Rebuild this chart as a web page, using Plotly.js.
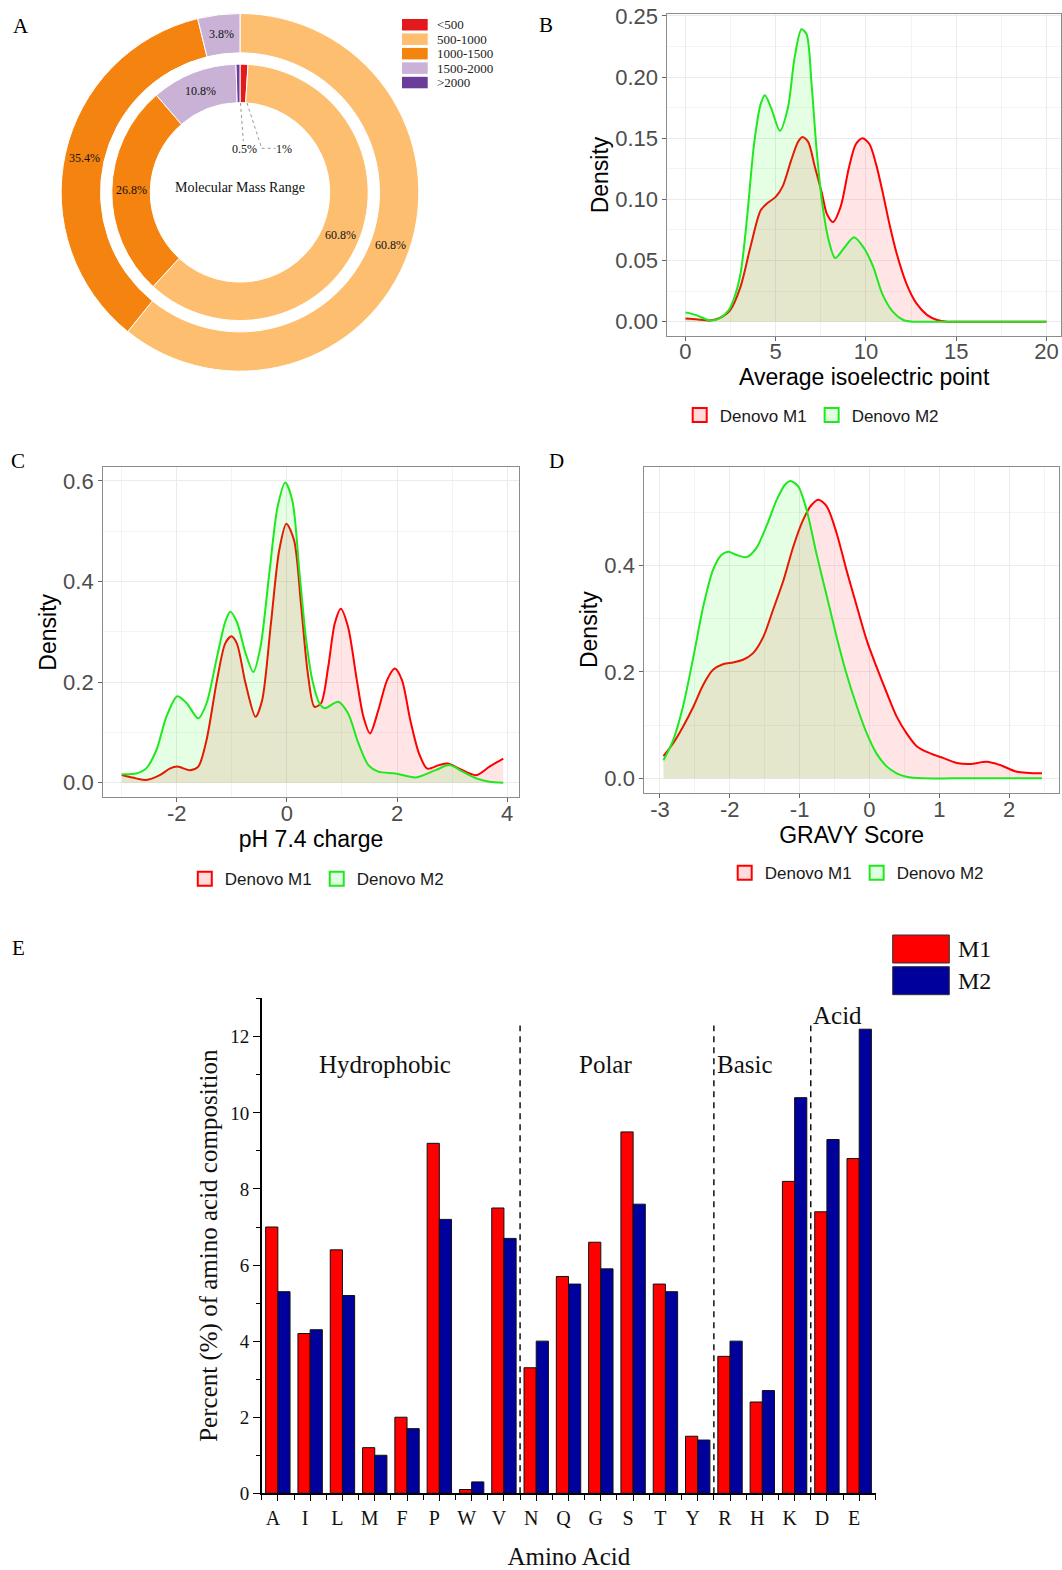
<!DOCTYPE html>
<html><head><meta charset="utf-8">
<script src="https://cdn.plot.ly/plotly-3.0.1.min.js"></script>
<style>html,body{margin:0;padding:0;background:#fff}</style>
</head><body>
<div id="chart" style="width:1062px;height:1570px"></div>
<script>
// ---------- Panel A data ----------
const massLabels = ['<500','500-1000','1000-1500','1500-2000','>2000'];
const massColors = ['#E31A1C','#FDBF6F','#F5830F','#CAB2D6','#6A3D9A'];
const innerVals = [1, 60.8, 26.8, 10.8, 0.5];
const outerLabels = ['500-1000','1000-1500','1500-2000'];
const outerVals = [60.8, 35.4, 3.8];
const centerTitle = 'Molecular Mass Range';

// ---------- Panel B data (average isoelectric point) ----------
const bX_M1 = [0,0.6,1.35,1.9,2.48,3.05,3.6,4.17,4.55,5.0,5.4,5.86,6.24,6.48,6.8,7.18,7.56,7.84,8.18,8.6,9.06,9.44,9.81,10.2,10.56,10.94,11.3,11.7,12.25,12.8,13.4,13.95,14.5,15.5,17.5,20];
const bY_M1 = [0.0027,0.002,0.001,0.003,0.0095,0.0285,0.061,0.091,0.097,0.102,0.111,0.132,0.147,0.151,0.147,0.126,0.105,0.088,0.0815,0.094,0.126,0.145,0.150,0.145,0.129,0.105,0.080,0.056,0.031,0.015,0.0054,0.0014,0,0,0,0];
const bX_M2 = [0,0.6,1.35,1.9,2.4,2.67,3.05,3.42,3.8,4.17,4.4,4.74,5.24,5.68,6.05,6.43,6.71,6.99,7.27,7.56,7.93,8.3,8.78,9.34,9.9,10.4,10.9,11.5,12.07,12.6,13.5,15,17.5,20];
const bY_M2 = [0.0076,0.0054,0.001,0.003,0.0095,0.018,0.039,0.086,0.145,0.178,0.185,0.175,0.156,0.175,0.216,0.239,0.235,0.194,0.14,0.099,0.067,0.052,0.060,0.069,0.060,0.045,0.023,0.008,0.0014,0,0,0,0,0];

// ---------- Panel C data (pH 7.4 charge) ----------
const cX_M1 = [-3.0,-2.74,-2.56,-2.31,-2.13,-1.99,-1.76,-1.61,-1.46,-1.27,-1.12,-1.01,-0.91,-0.75,-0.57,-0.45,-0.29,-0.14,-0.01,0.13,0.26,0.38,0.50,0.62,0.75,0.87,0.98,1.11,1.27,1.39,1.51,1.66,1.82,1.96,2.09,2.24,2.40,2.55,2.76,2.92,3.13,3.44,3.68,3.93];
const cY_M1 = [0.0152,0.0086,0.0053,0.015,0.028,0.032,0.025,0.032,0.085,0.204,0.277,0.291,0.277,0.197,0.131,0.164,0.317,0.462,0.515,0.482,0.35,0.217,0.151,0.158,0.23,0.317,0.346,0.31,0.204,0.131,0.098,0.144,0.204,0.227,0.204,0.125,0.058,0.028,0.035,0.038,0.028,0.015,0.032,0.048];
const cX_M2 = [-3.0,-2.74,-2.56,-2.37,-2.19,-1.99,-1.82,-1.61,-1.46,-1.27,-1.12,-1.03,-0.91,-0.75,-0.61,-0.48,-0.32,-0.17,-0.03,0.10,0.23,0.35,0.47,0.59,0.69,0.93,1.11,1.30,1.48,1.66,1.97,2.34,2.70,2.95,3.19,3.44,3.68,3.93];
const cY_M2 = [0.017,0.0185,0.028,0.065,0.131,0.172,0.158,0.128,0.158,0.25,0.32,0.34,0.32,0.257,0.22,0.27,0.416,0.548,0.597,0.56,0.416,0.283,0.20,0.158,0.148,0.161,0.138,0.078,0.035,0.022,0.0185,0.0106,0.025,0.035,0.022,0.0086,0.002,0.0];

// ---------- Panel D data (GRAVY score) ----------
const dX_M1 = [-2.95,-2.81,-2.67,-2.52,-2.38,-2.24,-2.09,-1.95,-1.81,-1.67,-1.52,-1.38,-1.23,-1.09,-0.95,-0.83,-0.73,-0.61,-0.47,-0.33,-0.18,-0.04,0.10,0.25,0.39,0.53,0.68,0.87,1.06,1.25,1.44,1.68,1.87,2.11,2.47];
const dY_M1 = [0.042,0.066,0.097,0.135,0.176,0.204,0.215,0.218,0.223,0.235,0.266,0.317,0.373,0.436,0.486,0.514,0.524,0.511,0.461,0.392,0.323,0.26,0.21,0.16,0.116,0.085,0.06,0.047,0.038,0.029,0.027,0.031,0.025,0.0125,0.0094];
const dX_M2 = [-2.95,-2.81,-2.67,-2.52,-2.38,-2.24,-2.12,-2.02,-1.90,-1.76,-1.62,-1.47,-1.33,-1.21,-1.13,-1.02,-0.90,-0.76,-0.61,-0.47,-0.33,-0.18,-0.04,0.10,0.25,0.39,0.53,0.77,1.2,1.8,2.47];
const dY_M2 = [0.034,0.072,0.135,0.229,0.323,0.392,0.42,0.426,0.42,0.416,0.433,0.476,0.523,0.552,0.559,0.549,0.505,0.423,0.342,0.266,0.197,0.135,0.085,0.047,0.022,0.0094,0.003,0,0,0,0];

const seriesNames = ['Denovo M1','Denovo M2'];

// ---------- Panel E data ----------
const aminoAcids = ['A','I','L','M','F','P','W','V','N','Q','G','S','T','Y','R','H','K','D','E'];
const compM1 = [7.0,4.2,6.4,1.2,2.0,9.2,0.1,7.5,3.3,5.7,6.6,9.5,5.5,1.5,3.6,2.4,8.2,7.4,8.8];
const compM2 = [5.3,4.3,5.2,1.0,1.7,7.2,0.3,6.7,4.0,5.5,5.9,7.6,5.3,1.4,4.0,2.7,10.4,9.3,12.2];
const barNames = ['M1','M2'];
const groupNames = ['Hydrophobic','Polar','Basic','Acid'];
const groupSizes = [8,6,3,2];

// ---------- helpers ----------
const W = 1062, H = 1570;
const px = v => v / W;
const py = v => 1 - v / H;
const SANS = 'Liberation Sans, Arial, sans-serif';
const SERIF = 'Liberation Serif, Times New Roman, serif';
const RED = '#FF0000', GREEN = '#1FE81F';
const RED_FILL = 'rgba(255,0,0,0.1)', GREEN_FILL = 'rgba(0,255,0,0.1)';

const colorOf = l => massColors[massLabels.indexOf(l)];

const traces = [];

// Panel A pie geometry (pixels)
const PCX = 240, PCY = 192.35;
const outerR = 178.85, outerHole = 0.78;
const innerR = 128.2, innerHole = 0.70;

traces.push({
  type:'pie', labels: outerLabels, values: outerVals, hole: outerHole, sort:false,
  direction:'clockwise', rotation:0,
  marker:{colors: outerLabels.map(colorOf), line:{color:'#fff', width:1}},
  textinfo:'none',
  domain:{x:[px(PCX - outerR), px(PCX + outerR)], y:[py(PCY + outerR), py(PCY - outerR)]},
  showlegend:false, hoverinfo:'label+value'
});
traces.push({
  type:'pie', labels: massLabels, values: innerVals, hole: innerHole, sort:false,
  direction:'clockwise', rotation:0,
  marker:{colors: massColors, line:{color:'#fff', width:1}},
  textinfo:'none',
  domain:{x:[px(PCX - innerR), px(PCX + innerR)], y:[py(PCY + innerR), py(PCY - innerR)]},
  showlegend:false, hoverinfo:'label+value'
});

function dens(x, y, color, fill, xa, ya) {
  return {type:'scatter', mode:'lines', x, y, xaxis:xa, yaxis:ya,
    line:{color, width:2, shape:'spline', smoothing:0.8},
    fill:'tozeroy', fillcolor:fill, showlegend:false, hoverinfo:'x+y'};
}
function legItem(name, color, fill, xa, ya, leg) {
  return {type:'scatter', mode:'markers', x:[null], y:[null], xaxis:xa, yaxis:ya,
    name, legend:leg, showlegend:true,
    marker:{symbol:'square', size:14, color:fill, line:{color, width:2}}};
}
const LFILL1 = 'rgba(255,0,0,0.14)', LFILL2 = 'rgba(0,255,0,0.12)';

// Panel B
traces.push(dens(bX_M1, bY_M1, RED, RED_FILL, 'x', 'y'));
traces.push(dens(bX_M2, bY_M2, GREEN, GREEN_FILL, 'x', 'y'));
traces.push(legItem(seriesNames[0], RED, LFILL1, 'x', 'y', 'legend'));
traces.push(legItem(seriesNames[1], GREEN, LFILL2, 'x', 'y', 'legend'));
// Panel C
traces.push(dens(cX_M1, cY_M1, RED, RED_FILL, 'x2', 'y2'));
traces.push(dens(cX_M2, cY_M2, GREEN, GREEN_FILL, 'x2', 'y2'));
traces.push(legItem(seriesNames[0], RED, LFILL1, 'x2', 'y2', 'legend2'));
traces.push(legItem(seriesNames[1], GREEN, LFILL2, 'x2', 'y2', 'legend2'));
// Panel D
traces.push(dens(dX_M1, dY_M1, RED, RED_FILL, 'x3', 'y3'));
traces.push(dens(dX_M2, dY_M2, GREEN, GREEN_FILL, 'x3', 'y3'));
traces.push(legItem(seriesNames[0], RED, LFILL1, 'x3', 'y3', 'legend3'));
traces.push(legItem(seriesNames[1], GREEN, LFILL2, 'x3', 'y3', 'legend3'));

// Panel E bars
const idx = aminoAcids.map((_, i) => i);
const barColors = ['#FF0000', '#00009C'];
traces.push({type:'bar', x: idx, y: compM1, name: barNames[0], xaxis:'x4', yaxis:'y4',
  marker:{color: barColors[0], line:{color:'#111', width:1}}, showlegend:false});
traces.push({type:'bar', x: idx, y: compM2, name: barNames[1], xaxis:'x4', yaxis:'y4',
  marker:{color: barColors[1], line:{color:'#111', width:1}}, showlegend:false});

function gAxis(extra) {
  return Object.assign({
    showgrid:true, gridcolor:'#EBEBEB', gridwidth:1,
    zeroline:false, showline:true, mirror:true, linecolor:'#8C8C8C', linewidth:1,
    ticks:'outside', ticklen:4, tickcolor:'#666', tickwidth:1,
    tickfont:{family:SANS, size:22, color:'#4D4D4D'},
    fixedrange:true
  }, extra);
}
const gTitle = (text, standoff) => ({text, font:{family:SANS, size:23, color:'#000'}, standoff});

const ticksC = [-2,0,2,4];
const ticksD = [-3,-2,-1,0,1,2];

const bounds = [];
let acc = 0;
groupSizes.forEach((s, i) => { acc += s; if (i < groupSizes.length - 1) bounds.push(acc - 0.5); });

const shapes = [];
bounds.forEach(b => shapes.push({type:'line', xref:'x4', yref:'y4', x0:b, x1:b, y0:0, y1:12.3,
  line:{color:'#111', width:1.5, dash:'6px,5px'}}));

// Panel A leader lines for the tiny slices
shapes.push({type:'line', xref:'paper', yref:'paper', x0:px(240.5), y0:py(103), x1:px(243.3), y1:py(141), line:{color:'#999', width:1, dash:'dot'}});
shapes.push({type:'line', xref:'paper', yref:'paper', x0:px(247), y0:py(103), x1:px(261.7), y1:py(148.3), line:{color:'#999', width:1, dash:'dot'}});
shapes.push({type:'line', xref:'paper', yref:'paper', x0:px(261.7), y0:py(148.3), x1:px(275.5), y1:py(148.3), line:{color:'#999', width:1, dash:'dot'}});

const annotations = [];
const txt = (text, x, y, font, xanchor) => ({text, x, y, xref:'paper', yref:'paper', showarrow:false,
  xanchor: xanchor || 'center', yanchor:'middle', font});

[['A',21,26],['B',546,25],['C',18,461],['D',556,461],['E',18,948]].forEach(([t,x,y]) =>
  annotations.push(txt(t, px(x), py(y), {family:SERIF, size:21, color:'#000'})));

// pie slice labels at slice centroids (computed from values)
function sliceLabels(vals, R, hole, minVal) {
  const total = vals.reduce((a, b) => a + b, 0);
  const rMid = R * (1 + hole) / 2;
  let cum = 0;
  vals.forEach(v => {
    const th = 2 * Math.PI * (cum + v / 2) / total;
    cum += v;
    if (v < minVal) return;
    annotations.push(txt(v + '%', px(PCX + rMid * Math.sin(th)), py(PCY - rMid * Math.cos(th)),
      {family:SERIF, size:12, color:'#111'}));
  });
}
sliceLabels(outerVals, outerR, outerHole, 2);
sliceLabels(innerVals, innerR, innerHole, 2);

annotations.push(txt(centerTitle, px(240), py(187.5), {family:SERIF, size:14, color:'#111'}));
annotations.push(txt(innerVals[4] + '%', px(244.2), py(149.3), {family:SERIF, size:12, color:'#111'}));
annotations.push(txt(innerVals[0] + '%', px(283.8), py(149.3), {family:SERIF, size:12, color:'#111'}));

// Panel A legend
massLabels.forEach((l, i) => {
  const top = 19 + i * 14.45;
  shapes.push({type:'rect', xref:'paper', yref:'paper', x0:px(402), x1:px(427.7), y0:py(top + 11.5), y1:py(top),
    fillcolor: massColors[i], line:{width:0}});
  annotations.push(txt(l.replace('<','&lt;').replace('>','&gt;'), px(435), py(top + 5.75),
    {family:SERIF, size:13, color:'#222'}, 'left'));
});

// Panel E group labels
const groupLabelPos = [[3.31,11.28,'center'],[10.13,11.28,'center'],[13.52,11.28,'left'],[16.52,12.57,'left']];
groupNames.forEach((g, i) => annotations.push({text:g, x:groupLabelPos[i][0], y:groupLabelPos[i][1],
  xref:'x4', yref:'y4', showarrow:false, xanchor:groupLabelPos[i][2], yanchor:'middle',
  font:{family:SERIF, size:25, color:'#111'}}));

// Panel E legend
const legTops = [935, 966.7];
barNames.forEach((n, i) => {
  shapes.push({type:'rect', xref:'paper', yref:'paper', x0:px(892.7), x1:px(949.3),
    y0:py(legTops[i] + 28), y1:py(legTops[i]), fillcolor: barColors[i], line:{color:'#333', width:1}});
  annotations.push(txt(n, px(956), py(legTops[i] + 14.3), {family:SERIF, size:24, color:'#111'}, 'left'));
});

const legendBase = {orientation:'h', xanchor:'center', yanchor:'middle', bgcolor:'rgba(0,0,0,0)',
  font:{family:SANS, size:17, color:'#1A1A1A'}, itemclick:false, itemdoubleclick:false};

const layout = {
  width:W, height:H, margin:{l:0, r:0, t:0, b:0}, paper_bgcolor:'#fff', plot_bgcolor:'#fff',
  font:{family:SANS}, showlegend:true, hovermode:'closest',
  barmode:'group', bargap:0.245, bargroupgap:0,
  legend: Object.assign({x:px(811.7), y:py(415.5)}, legendBase),
  legend2: Object.assign({x:px(316.8), y:py(879.3)}, legendBase),
  legend3: Object.assign({x:px(856.7), y:py(873.3)}, legendBase),
  xaxis: gAxis({domain:[px(667.4), px(1061)], range:[-1, 20.81], anchor:'y', dtick:5, tick0:0,
    ticklabelstandoff:-8,
    minor:{dtick:2.5, showgrid:true, gridcolor:'#F3F3F3', gridwidth:0.6},
    title: gTitle('Average isoelectric point', 3)}),
  yaxis: gAxis({domain:[py(336), py(14)], range:[-0.0117, 0.2515], anchor:'x', dtick:0.05, tick0:0, tickformat:'.2f',
    minor:{dtick:0.025, showgrid:true, gridcolor:'#F3F3F3', gridwidth:0.6},
    title: gTitle('Density', 0)}),
  xaxis2: gAxis({domain:[px(103.1), px(519)], range:[-3.339, 4.216], anchor:'y2',
    tickmode:'array', tickvals:ticksC, ticktext:ticksC.map(String), ticklabelstandoff:-8,
    minor:{dtick:1, tick0:-3, showgrid:true, gridcolor:'#F3F3F3', gridwidth:0.6},
    title: gTitle('pH 7.4 charge', 3)}),
  yaxis2: gAxis({domain:[py(797.3), py(467.3)], range:[-0.029, 0.627], anchor:'x2', dtick:0.2, tick0:0, tickformat:'.1f',
    minor:{dtick:0.1, showgrid:true, gridcolor:'#F3F3F3', gridwidth:0.6},
    title: gTitle('Density', 0)}),
  xaxis3: gAxis({domain:[px(644.3), px(1059)], range:[-3.224, 2.714], anchor:'y3',
    tickmode:'array', tickvals:ticksD, ticktext:ticksD.map(String), ticklabelstandoff:-7,
    minor:{dtick:0.5, tick0:-3, showgrid:true, gridcolor:'#F3F3F3', gridwidth:0.6},
    title: gTitle('GRAVY Score', 5)}),
  yaxis3: gAxis({domain:[py(792.7), py(466.7)], range:[-0.027, 0.586], anchor:'x3', dtick:0.2, tick0:0, tickformat:'.1f',
    minor:{dtick:0.1, showgrid:true, gridcolor:'#F3F3F3', gridwidth:0.6},
    title: gTitle('Density', 0)}),
  xaxis4: {domain:[px(261.7), px(876)], range:[-0.5, 18.52], anchor:'y4',
    tickmode:'array', tickvals: idx, ticktext: aminoAcids,
    showgrid:false, zeroline:false, showline:true, linecolor:'#000', linewidth:1.5,
    ticks:'outside', ticklen:6, tickwidth:1.2, tickcolor:'#000',
    minor:{tickmode:'array', tickvals: idx.map(i => i - 0.5).concat([idx.length - 0.5]), ticks:'outside', ticklen:5, tickwidth:1.2, tickcolor:'#000'},
    tickfont:{family:SERIF, size:20, color:'#111'}, ticklabelshift:-5,
    title:{text:'Amino Acid', font:{family:SERIF, size:25, color:'#111'}, standoff:20}, fixedrange:true},
  yaxis4: {domain:[py(1493.3), py(998)], range:[0, 13.02], anchor:'x4', dtick:2, tick0:0,
    showgrid:false, zeroline:false, showline:true, linecolor:'#000', linewidth:1.5,
    ticks:'outside', ticklen:7, tickwidth:1.2, tickcolor:'#000',
    minor:{dtick:1, ticks:'outside', ticklen:4, tickwidth:1.2, tickcolor:'#000'},
    tickfont:{family:SERIF, size:19, color:'#111'},
    title:{text:'Percent (%) of amino acid composition', font:{family:SERIF, size:25, color:'#111'}, standoff:5}, fixedrange:true},
  shapes, annotations
};

Plotly.newPlot('chart', traces, layout, {displayModeBar:false, responsive:false});
</script>
</body></html>
